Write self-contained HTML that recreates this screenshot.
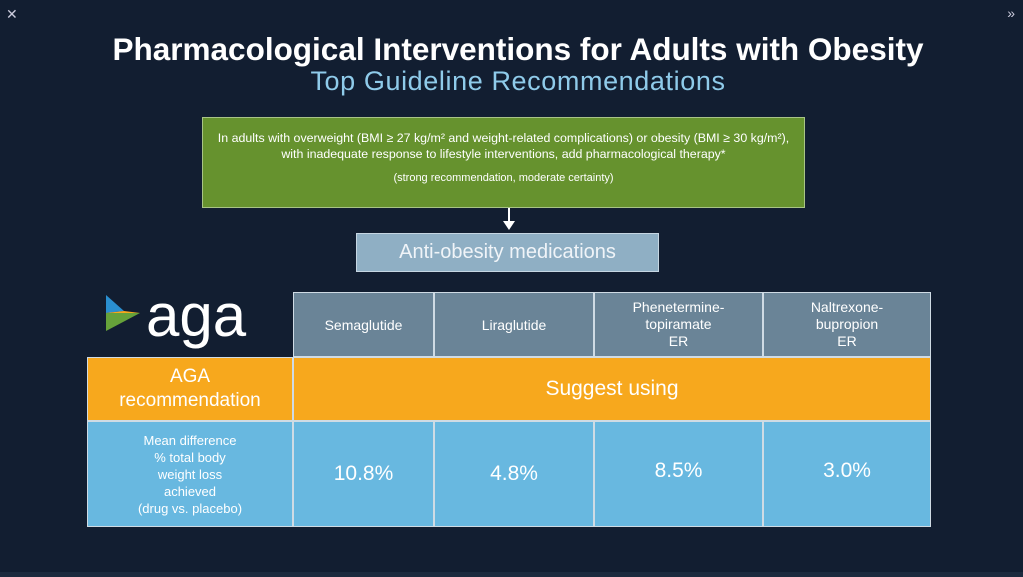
<!DOCTYPE html>
<html><head><style>
body{margin:0;width:1023px;height:577px;background:#121e31;position:relative;overflow:hidden;font-family:"Liberation Sans",sans-serif;color:#fff}
.a{position:absolute;box-sizing:border-box}
.c{display:flex;align-items:center;justify-content:center;text-align:center}
</style></head><body>
<div class="a" style="left:6px;top:6px;font-size:14px;color:#ccd">✕</div>
<div class="a" style="right:8px;top:5px;font-size:14px;color:#ccd">»</div>
<div class="a c" style="left:0;width:1036px;top:30px;height:38px;font-size:31.5px;font-weight:bold">Pharmacological Interventions for Adults with Obesity</div>
<div class="a c" style="left:0;width:1036px;top:66px;height:30px;font-size:27px;letter-spacing:0.6px;color:#8fcbea">Top Guideline Recommendations</div>
<div class="a" style="left:202px;top:117px;width:603px;height:91px;background:#66922e;border:1px solid #a8c486;font-size:12.4px;text-align:center;padding-top:12px;line-height:16px">In adults with overweight (BMI ≥ 27 kg/m² and weight-related complications) or obesity (BMI ≥ 30 kg/m²),<br>with inadequate response to lifestyle interventions, add pharmacological therapy*<div style="margin-top:8px;font-size:11px">(strong recommendation, moderate certainty)</div></div>
<div class="a" style="left:508px;top:208px;width:2px;height:16px;background:#fff"></div>
<div class="a" style="left:503px;top:221px;width:0;height:0;border-left:6px solid transparent;border-right:6px solid transparent;border-top:9px solid #fff"></div>
<div class="a c" style="left:356px;top:233px;width:303px;height:39px;background:#8fafc4;border:1px solid #c6d6e2;font-size:20px;color:#f0f4f8">Anti-obesity medications</div>
<svg class="a" style="left:104px;top:293px" width="36" height="40"><polygon points="2,2 20,18 2,20" fill="#2a8fd0"/><polygon points="20,18 36,20 2,20" fill="#f7a81d"/><polygon points="2,20 36,20 2,38" fill="#66a23a"/></svg>
<div class="a" style="left:146px;top:281px;font-size:60px;line-height:70px;color:#fff">aga</div>
<div class="a" style="left:293px;top:292px;width:638px;height:235px;background:#cfdbe4"></div>
<div class="a c" style="left:294px;top:293px;width:139px;height:63px;background:#6a8497;font-size:14px">Semaglutide</div>
<div class="a c" style="left:435px;top:293px;width:158px;height:63px;background:#6a8497;font-size:14px">Liraglutide</div>
<div class="a c" style="left:595px;top:293px;width:167px;height:63px;background:#6a8497;font-size:14px;line-height:17px">Phenetermine-<br>topiramate<br>ER</div>
<div class="a c" style="left:764px;top:293px;width:166px;height:63px;background:#6a8497;font-size:14px;line-height:17px">Naltrexone-<br>bupropion<br>ER</div>
<div class="a" style="left:87px;top:357px;width:844px;height:170px;background:#cfdbe4"></div>
<div class="a c" style="left:88px;top:358px;width:204px;height:62px;background:#f7a81d;font-size:19px;line-height:24px">AGA<br>recommendation</div>
<div class="a c" style="left:294px;top:358px;width:636px;height:62px;background:#f7a81d;font-size:21px">Suggest using</div>
<div class="a c" style="left:88px;top:422px;width:204px;height:104px;background:#68b8e0;font-size:13px;line-height:17px">Mean difference<br>% total body<br>weight loss<br>achieved<br>(drug vs. placebo)</div>
<div class="a c" style="left:294px;top:422px;width:139px;height:104px;background:#68b8e0;font-size:21px">10.8%</div>
<div class="a c" style="left:435px;top:422px;width:158px;height:104px;background:#68b8e0;font-size:21px">4.8%</div>
<div class="a c" style="left:595px;top:422px;width:167px;height:98px;background:#68b8e0;font-size:21px">8.5%</div>
<div class="a" style="left:595px;top:514px;width:167px;height:12px;background:#68b8e0"></div>
<div class="a c" style="left:764px;top:422px;width:166px;height:98px;background:#68b8e0;font-size:21px">3.0%</div>
<div class="a" style="left:764px;top:514px;width:166px;height:12px;background:#68b8e0"></div>
<div class="a" style="left:0;top:572px;width:1023px;height:5px;background:#1c2a3e"></div>
</body></html>
